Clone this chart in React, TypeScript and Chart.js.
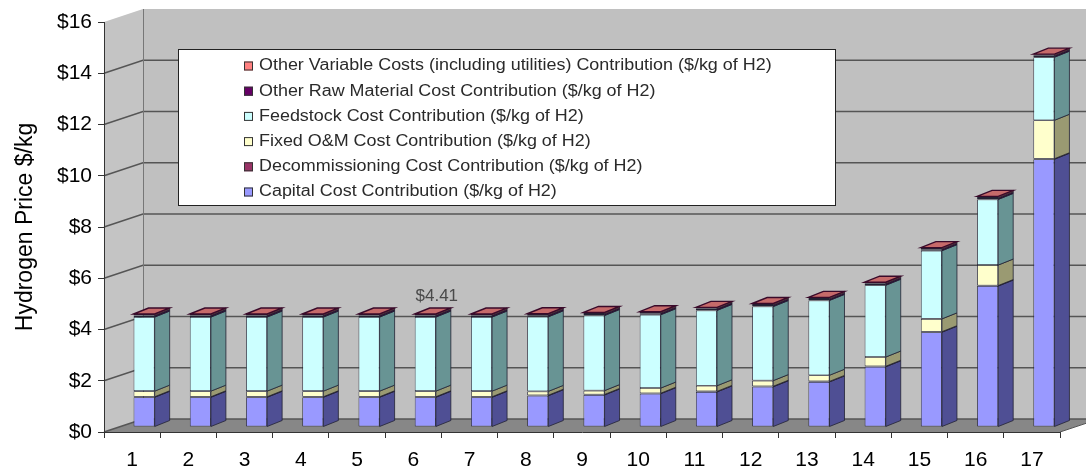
import React, { useEffect, useRef } from "react";
import { Chart, registerables } from "chart.js";

Chart.register(...registerables);

// ---- data ----
const categories = ["1", "2", "3", "4", "5", "6", "7", "8", "9", "10", "11", "12", "13", "14", "15", "16", "17"];

const capitalCost = [1.16, 1.16, 1.16, 1.16, 1.16, 1.16, 1.16, 1.22, 1.25, 1.3, 1.37, 1.57, 1.76, 2.35, 3.7, 5.5, 10.45];
const decommissioningCost = [0.02, 0.02, 0.02, 0.02, 0.02, 0.02, 0.02, 0.02, 0.02, 0.02, 0.02, 0.02, 0.02, 0.02, 0.02, 0.02, 0.02];
const fixedOMCost = [0.22, 0.22, 0.22, 0.22, 0.22, 0.22, 0.22, 0.15, 0.15, 0.2, 0.22, 0.22, 0.24, 0.36, 0.5, 0.8, 1.5];
const feedstockCost = [2.89, 2.89, 2.89, 2.89, 2.89, 2.89, 2.89, 2.91, 2.93, 2.86, 2.94, 2.89, 2.92, 2.8, 2.66, 2.56, 2.46];
const otherRawMaterialCost = [0.06, 0.06, 0.06, 0.06, 0.06, 0.06, 0.06, 0.06, 0.06, 0.06, 0.06, 0.06, 0.06, 0.06, 0.06, 0.06, 0.06];
const otherVariableCost = [0.06, 0.06, 0.06, 0.06, 0.06, 0.06, 0.06, 0.06, 0.06, 0.06, 0.06, 0.06, 0.06, 0.06, 0.06, 0.06, 0.06];

const priceTicks = [0, 2, 4, 6, 8, 10, 12, 14, 16];

// index of the bar whose total is annotated
const annotatedIndex = 5;

const seriesLabels = [
  "Capital Cost Contribution ($/kg of H2)",
  "Decommissioning Cost Contribution ($/kg of H2)",
  "Fixed O&M Cost Contribution ($/kg of H2)",
  "Feedstock Cost Contribution ($/kg of H2)",
  "Other Raw Material Cost Contribution ($/kg of H2)",
  "Other Variable Costs (including utilities) Contribution ($/kg of H2)",
];

// ---- styles ----
const FONT = "'Liberation Sans', Arial, sans-serif";
const frontColors = ["#9999ff", "#993366", "#ffffcc", "#ccffff", "#660066", "#ff8080"];
const sideColors = ["#4f4f94", "#4d1a33", "#9a9a72", "#689494", "#330033", "#803f3f"];
const topFaceColor = "#c66a6a";
const edgeColor = "#222233";

// pseudo-3D geometry (pixels)
const WALL_DX = 39;
const WALL_DY = -13;
const BAR_SHIFT_X = 12;
const BAR_SHIFT_Y = -5;
const BAR_DX = 15;
const BAR_DY = -6;

const poly = (ctx: CanvasRenderingContext2D, pts: number[][]) => {
  ctx.beginPath();
  ctx.moveTo(pts[0][0], pts[0][1]);
  for (let i = 1; i < pts.length; i++) ctx.lineTo(pts[i][0], pts[i][1]);
  ctx.closePath();
};

// back wall, side wall, floor and the gridlines running along them
const wallsPlugin = {
  id: "walls",
  beforeDraw(chart: any) {
    const { ctx, chartArea: a, scales } = chart;
    const y = scales.y;
    const top = y.getPixelForValue(priceTicks[priceTicks.length - 1]);
    const bottom = y.getPixelForValue(0);
    const W = chart.width;
    ctx.save();
    ctx.fillStyle = "#ffffff";
    ctx.fillRect(0, 0, W, chart.height);

    ctx.fillStyle = "#c0c0c0";
    ctx.fillRect(a.left + WALL_DX, top + WALL_DY, W - a.left - WALL_DX, bottom - top);
    poly(ctx, [
      [a.left, top],
      [a.left + WALL_DX, top + WALL_DY],
      [a.left + WALL_DX, bottom + WALL_DY],
      [a.left, bottom],
    ]);
    ctx.fillStyle = "#c4c4c4";
    ctx.fill();

    poly(ctx, [
      [a.left, bottom],
      [a.right, bottom],
      [a.right + WALL_DX, bottom + WALL_DY],
      [a.left + WALL_DX, bottom + WALL_DY],
    ]);
    ctx.fillStyle = "#878787";
    ctx.fill();

    ctx.strokeStyle = "#555555";
    ctx.lineWidth = 1.5;
    priceTicks.slice(0, -1).forEach((v) => {
      const py = y.getPixelForValue(v);
      ctx.beginPath();
      ctx.moveTo(a.left, py);
      ctx.lineTo(a.left + WALL_DX, py + WALL_DY);
      ctx.lineTo(v === 0 ? a.right + WALL_DX : W, py + WALL_DY);
      ctx.stroke();
    });
    ctx.lineWidth = 1;
    ctx.strokeStyle = "#777777";
    ctx.beginPath();
    ctx.moveTo(a.left + WALL_DX + 0.5, top + WALL_DY);
    ctx.lineTo(a.left + WALL_DX + 0.5, bottom + WALL_DY);
    ctx.stroke();
    ctx.strokeStyle = "#555555";
    ctx.beginPath();
    ctx.moveTo(a.right, bottom);
    ctx.lineTo(a.right + WALL_DX, bottom + WALL_DY);
    ctx.stroke();
    ctx.restore();
  },
};

// shifts the bars into the middle of the depth and adds side and top faces
const barDepthPlugin = {
  id: "barDepth",
  beforeDatasetsDraw(chart: any) {
    chart.ctx.save();
    chart.ctx.translate(BAR_SHIFT_X, BAR_SHIFT_Y);
  },
  afterDatasetsDraw(chart: any) {
    const { ctx } = chart;
    const n = chart.data.datasets.length;
    ctx.lineWidth = 0.8;
    ctx.strokeStyle = edgeColor;
    for (let di = 0; di < n; di++) {
      const meta = chart.getDatasetMeta(di);
      meta.data.forEach((el: any) => {
        const { x, y, base, width } = el.getProps(["x", "y", "base", "width"], true);
        const r = x + width / 2;
        const t = Math.min(y, base);
        const b = Math.max(y, base);
        poly(ctx, [
          [r, t],
          [r + BAR_DX, t + BAR_DY],
          [r + BAR_DX, b + BAR_DY],
          [r, b],
        ]);
        ctx.fillStyle = sideColors[di];
        ctx.fill();
        ctx.stroke();
        if (di === n - 1) {
          const l = x - width / 2;
          poly(ctx, [
            [l, t],
            [l + BAR_DX, t + BAR_DY],
            [r + BAR_DX, t + BAR_DY],
            [r, t],
          ]);
          ctx.fillStyle = topFaceColor;
          ctx.fill();
          ctx.lineWidth = 1.4;
          ctx.strokeStyle = "#3a0a2a";
          ctx.stroke();
          ctx.lineWidth = 0.8;
          ctx.strokeStyle = edgeColor;
        }
      });
    }
    ctx.restore();
  },
};

// boxed legend and the total label of one bar
const overlayPlugin = {
  id: "overlay",
  afterDraw(chart: any) {
    const { ctx, scales } = chart;
    ctx.save();

    // total label
    const total =
      capitalCost[annotatedIndex] +
      decommissioningCost[annotatedIndex] +
      fixedOMCost[annotatedIndex] +
      feedstockCost[annotatedIndex] +
      otherRawMaterialCost[annotatedIndex] +
      otherVariableCost[annotatedIndex];
    const lx = scales.x.getPixelForValue(annotatedIndex) + BAR_SHIFT_X + BAR_DX / 2 + 4;
    const ly = scales.y.getPixelForValue(total) + BAR_SHIFT_Y + BAR_DY - 7;
    ctx.font = `17px ${FONT}`;
    ctx.fillStyle = "#4a4a4a";
    ctx.textAlign = "center";
    ctx.textBaseline = "alphabetic";
    ctx.fillText("$" + total.toFixed(2), lx, ly);

    // legend
    const bx = 178, by = 49, bw = 657, bh = 156;
    ctx.fillStyle = "#ffffff";
    ctx.fillRect(bx, by, bw, bh);
    ctx.strokeStyle = "#222222";
    ctx.lineWidth = 1;
    ctx.strokeRect(bx + 0.5, by + 0.5, bw, bh);
    const ds = chart.data.datasets;
    ctx.textAlign = "left";
    ctx.textBaseline = "middle";
    ctx.font = `16px ${FONT}`;
    for (let r = 0; r < ds.length; r++) {
      const di = ds.length - 1 - r;
      const cy = 66 + r * 25.2;
      ctx.fillStyle = frontColors[di];
      ctx.fillRect(244, cy - 4.5, 9, 9);
      ctx.strokeStyle = "#333333";
      ctx.strokeRect(244.5, cy - 4, 8, 8);
      ctx.save();
      ctx.translate(259, cy);
      ctx.scale(1.12, 1);
      ctx.fillStyle = "#2a2a2a";
      ctx.fillText(ds[di].label, 0, 0);
      ctx.restore();
    }
    ctx.restore();
  },
};

export default function App() {
  const canvasRef = useRef<HTMLCanvasElement | null>(null);

  useEffect(() => {
    const canvas = canvasRef.current;
    if (!canvas) return;
    const series = [capitalCost, decommissioningCost, fixedOMCost, feedstockCost, otherRawMaterialCost, otherVariableCost];
    const chart = new Chart(canvas, {
      type: "bar",
      data: {
        labels: categories,
        datasets: series.map((values, i) => ({
          label: seriesLabels[i],
          data: values,
          backgroundColor: frontColors[i],
          borderColor: edgeColor,
          borderWidth: 0.8,
          borderSkipped: false,
          barPercentage: 0.75,
          categoryPercentage: 0.5,
          clip: false as any,
        })),
      },
      options: {
        responsive: false,
        animation: false,
        devicePixelRatio: 1,
        layout: { padding: { top: 22, right: 26, bottom: 0, left: 0 } },
        plugins: {
          legend: { display: false },
          tooltip: { enabled: false },
        },
        scales: {
          x: {
            stacked: true,
            grid: { drawOnChartArea: false, drawTicks: true, tickLength: 6, color: "#333333", offset: true },
            border: { display: true, color: "#333333", width: 1 },
            ticks: { color: "#000000", font: { family: FONT, size: 21 }, padding: 10, maxRotation: 0, autoSkip: false },
            afterFit: (s: any) => {
              s.height = 41;
            },
          },
          y: {
            stacked: true,
            min: 0,
            max: 16,
            afterBuildTicks: (s: any) => {
              s.ticks = priceTicks.map((v) => ({ value: v }));
            },
            ticks: {
              color: "#000000",
              font: { family: FONT, size: 21 },
              padding: 6,
              callback: (v: any) => "$" + v,
            },
            grid: { drawOnChartArea: false, drawTicks: true, tickLength: 6, color: "#333333" },
            border: { display: true, color: "#333333", width: 1 },
            title: {
              display: true,
              text: "Hydrogen Price $/kg",
              color: "#000000",
              font: { family: FONT, size: 23 },
              padding: { top: 12, bottom: 0 },
            },
            afterFit: (s: any) => {
              s.width = 104;
            },
          },
        },
      },
      plugins: [wallsPlugin, barDepthPlugin, overlayPlugin],
    });
    return () => chart.destroy();
  }, []);

  return (
    <div style={{ position: "fixed", left: 0, top: 0, width: 1086, height: 473, background: "#ffffff" }}>
      <canvas ref={canvasRef} width={1086} height={473} style={{ display: "block" }} />
    </div>
  );
}
